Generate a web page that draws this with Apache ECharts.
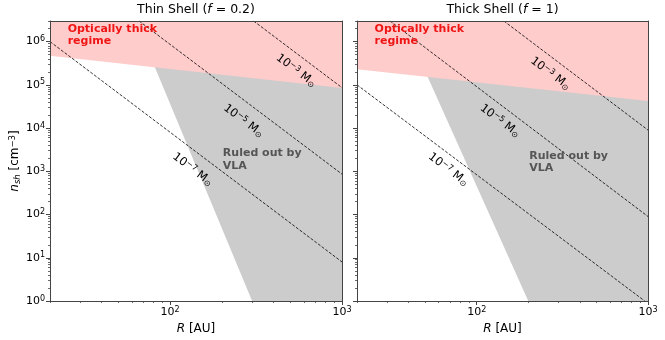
<!DOCTYPE html>
<html><head><meta charset="utf-8">
<script src="https://cdn.jsdelivr.net/npm/echarts@6/dist/echarts.min.js"></script>
<style>html,body{margin:0;padding:0;background:#fff}#c{width:665px;height:340px}</style>
</head><body><div id="c"></div>
<script>
// ---- data ----
const xRange = [20, 1000];
const yRange = [1, 3e6];
const xMajorTicks = [100, 1000];
const xMinorMult = [2, 3, 4, 5, 6, 7, 8, 9];
const xDecades = [10, 100];
const yMajorTicks = [1, 10, 100, 1e3, 1e4, 1e5, 1e6];
const yMinorMult = [2, 3, 4, 5, 6, 7, 8, 9];
const yDecades = [1, 10, 100, 1e3, 1e4, 1e5, 1e6];

const panelTitles = ['Thin Shell (', 'Thick Shell ('];
const panelF = ['0.2', '1'];
const massExponents = ['−7', '−5', '−3'];

// Thin shell (f = 0.2)
const thinLinesR = [[20, 1000], [66, 1000], [306, 1000]];
const thinLinesN = [[1e6, 8], [3e6, 860], [3e6, 8.6e4]];
const thinOpticalR = [20, 1000];
const thinOpticalN = [4.72e5, 8.47e4];
const thinVlaR = [63, 300, 1000];
const thinVlaN = [3e6, 1, 1];
const thinLabelR = [135, 267, 540];
const thinLabelN = [1.1e3, 1.47e4, 2.14e5];
const thinTextR = [25.5, 204];
const thinTextN = [2.7e6, 3.5e3];

// Thick shell (f = 1)
const thickLinesR = [[20, 957], [31.2, 1000], [144, 1000]];
const thickLinesN = [[1e5, 1], [3e6, 90], [3e6, 9000]];
const thickOpticalR = [20, 1000];
const thickOpticalN = [2.3e5, 4.21e4];
const thickVlaR = [36.9, 200, 1000];
const thickVlaN = [3e6, 1, 1];
const thickLabelR = [68.2, 136.5, 269];
const thickLabelN = [1.1e3, 1.47e4, 1.82e5];
const thickTextR = [25.5, 204];
const thickTextN = [2.7e6, 3.1e3];

// ---- build ----
const L = Math.log10;
const FONT = 'DejaVu Sans';
const SPINE = '#444';
const zip = (xs, ys) => xs.map((x, i) => [L(x), L(ys[i])]);
const xMinorTicks = [];
xDecades.forEach(d => xMinorMult.forEach(m => { const v = m * d; if (v >= xRange[0] && v <= xRange[1]) xMinorTicks.push(v); }));
const yMinorTicks = [];
yDecades.forEach(d => yMinorMult.forEach(m => { const v = m * d; if (v >= yRange[0] && v <= yRange[1]) yMinorTicks.push(v); }));

const tickRich = {
  b: {fontSize: 11, fontFamily: FONT, color: '#000', lineHeight: 13},
  s: {fontSize: 8, fontFamily: FONT, color: '#000', lineHeight: 8, verticalAlign: 'top'}
};
const supFmt = v => '{b|10}{s|' + Math.round(v) + '}';

const grids = [
  {left: 50, top: 21, width: 292, height: 280},
  {left: 357, top: 21, width: 291, height: 280}
];
const panels = [
  {linesR: thinLinesR, linesN: thinLinesN, optR: thinOpticalR, optN: thinOpticalN, vlaR: thinVlaR, vlaN: thinVlaN, labR: thinLabelR, labN: thinLabelN, txtR: thinTextR, txtN: thinTextN},
  {linesR: thickLinesR, linesN: thickLinesN, optR: thickOpticalR, optN: thickOpticalN, vlaR: thickVlaR, vlaN: thickVlaN, labR: thickLabelR, labN: thickLabelN, txtR: thickTextR, txtN: thickTextN}
];

const noBorder = {textBorderWidth: 0, textBorderColor: 'transparent', textShadowBlur: 0, opacity: 1};

const xAxes = [], yAxes = [], series = [], titles = [];
panels.forEach((p, i) => {
  const base = {type: 'value', gridIndex: i, z: 10, splitLine: {show: false}};
  const xr = {min: L(xRange[0]), max: L(xRange[1])};
  const yr = {min: L(yRange[0]), max: L(yRange[1])};
  xAxes.push(Object.assign({}, base, xr, {
    position: 'bottom',
    axisLine: {show: true, onZero: false, lineStyle: {color: SPINE, width: 1}},
    axisTick: {show: true, customValues: xMajorTicks.map(L), length: 4, lineStyle: {color: SPINE, width: 1}},
    axisLabel: {show: true, customValues: xMajorTicks.map(L), formatter: supFmt, margin: 5, rich: tickRich},
    name: '{i|R} [AU]', nameLocation: 'middle', nameGap: 19,
    nameTextStyle: {fontSize: 12, fontFamily: FONT, color: '#000', verticalAlign: 'top',
      rich: {i: {fontStyle: 'italic', fontSize: 12, fontFamily: FONT, color: '#000'}}}
  }));
  xAxes.push(Object.assign({}, base, xr, {
    position: 'bottom',
    axisLine: {show: false, onZero: false},
    axisTick: {show: true, customValues: xMinorTicks.map(L), length: 2, lineStyle: {color: SPINE, width: 0.8}},
    axisLabel: {show: false}
  }));
  xAxes.push(Object.assign({}, base, xr, {
    position: 'top',
    axisLine: {show: true, onZero: false, lineStyle: {color: SPINE, width: 1}},
    axisTick: {show: false}, axisLabel: {show: false}
  }));
  const yMain = Object.assign({}, base, yr, {
    position: 'left',
    axisLine: {show: true, onZero: false, lineStyle: {color: SPINE, width: 1}},
    axisTick: {show: true, customValues: yMajorTicks.map(L), length: 4, lineStyle: {color: SPINE, width: 1}},
    axisLabel: {show: i === 0, customValues: yMajorTicks.map(L), formatter: supFmt, margin: 5, rich: tickRich}
  });
  if (i === 0) {
    Object.assign(yMain, {
      name: '{i|n}{u|sh} [cm{s|−3}]', nameLocation: 'middle', nameGap: 26, nameRotate: 90,
      nameTextStyle: {fontSize: 12, fontFamily: FONT, color: '#000',
        rich: {
          i: {fontStyle: 'italic', fontSize: 12, fontFamily: FONT, color: '#000', lineHeight: 14},
          u: {fontStyle: 'italic', fontSize: 8.5, fontFamily: FONT, color: '#000', lineHeight: 8, verticalAlign: 'bottom'},
          s: {fontSize: 8.5, fontFamily: FONT, color: '#000', lineHeight: 8, verticalAlign: 'top'}
        }}
    });
  }
  yAxes.push(yMain);
  yAxes.push(Object.assign({}, base, yr, {
    position: 'left',
    axisLine: {show: false, onZero: false},
    axisTick: {show: true, customValues: yMinorTicks.map(L), length: 2, lineStyle: {color: SPINE, width: 0.8}},
    axisLabel: {show: false}
  }));
  yAxes.push(Object.assign({}, base, yr, {
    position: 'right',
    axisLine: {show: true, onZero: false, lineStyle: {color: SPINE, width: 1}},
    axisTick: {show: false}, axisLabel: {show: false}
  }));

  const ax = {xAxisIndex: 3 * i, yAxisIndex: 3 * i};
  series.push(Object.assign({}, ax, {
    type: 'line', data: zip(p.vlaR, p.vlaN), symbol: 'none', silent: true, z: 1,
    lineStyle: {width: 0}, areaStyle: {color: '#cccccc', opacity: 1, origin: 'end'}
  }));
  series.push(Object.assign({}, ax, {
    type: 'line', data: zip(p.optR, p.optN), symbol: 'none', silent: true, z: 2,
    lineStyle: {width: 0}, areaStyle: {color: '#ffcccc', opacity: 1, origin: 'end'}
  }));
  p.linesR.forEach((r, k) => {
    series.push(Object.assign({}, ax, {
      type: 'line', data: zip(r, p.linesN[k]), symbol: 'none', silent: true, z: 3,
      lineStyle: {color: '#000', width: 0.8, type: [3, 1.6]}
    }));
  });
  series.push(Object.assign({}, ax, {
    type: 'scatter', symbolSize: 1, silent: true, z: 4,
    itemStyle: {color: 'rgba(0,0,0,0)'},
    data: zip(p.labR, p.labN),
    label: Object.assign({
      show: true, position: 'inside', rotate: -37, color: '#000',
      formatter: d => '{n|10}{s|' + massExponents[d.dataIndex] + '}{n| M}{o|⊙}',
      rich: {
        n: {fontSize: 11.5, fontFamily: FONT, color: '#000', lineHeight: 13},
        s: {fontSize: 8, fontFamily: FONT, color: '#000', lineHeight: 8, verticalAlign: 'top'},
        o: {fontSize: 8, fontFamily: FONT, color: '#000', lineHeight: 8, verticalAlign: 'bottom'}
      }
    }, noBorder)
  }));
  const t = zip(p.txtR, p.txtN);
  series.push(Object.assign({}, ax, {
    type: 'scatter', symbolSize: 1, silent: true, z: 5,
    itemStyle: {color: 'rgba(0,0,0,0)'},
    data: [
      {value: t[0], label: {formatter: 'Optically thick\nregime', color: '#f01515'}},
      {value: t[1], label: {formatter: 'Ruled out by\nVLA', color: '#555555'}}
    ],
    label: Object.assign({show: true, position: [0, 0], align: 'left', verticalAlign: 'top',
      fontSize: 11, fontWeight: 'bold', fontFamily: FONT, lineHeight: 12.5}, noBorder)
  }));

  titles.push({
    left: grids[i].left + grids[i].width / 2, top: 3, textAlign: 'center', padding: 0,
    text: '{a|' + panelTitles[i] + '}{i|f}{a| = ' + panelF[i] + ')}',
    textStyle: {fontSize: 12.5, fontWeight: 'normal', fontFamily: FONT, color: '#000',
      rich: {
        a: {fontSize: 12.5, fontFamily: FONT, color: '#000'},
        i: {fontSize: 12.5, fontFamily: FONT, color: '#000', fontStyle: 'italic'}
      }}
  });
});

const chart = echarts.init(document.getElementById('c'), null, {renderer: 'canvas'});
chart.setOption({
  animation: false,
  backgroundColor: '#fff',
  title: titles,
  grid: grids,
  xAxis: xAxes,
  yAxis: yAxes,
  series: series
});
</script>
</body></html>
